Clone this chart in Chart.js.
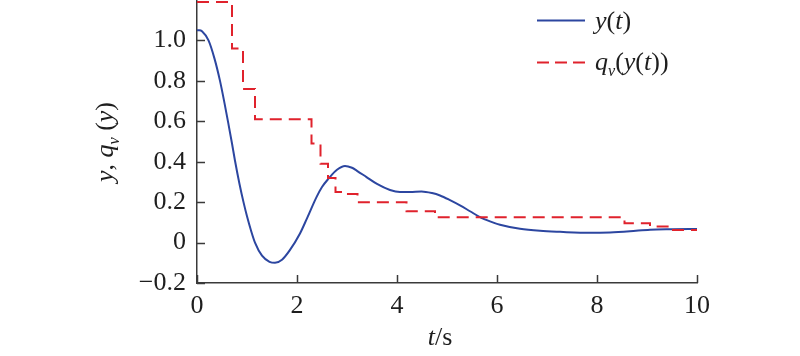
<!DOCTYPE html>
<html>
<head>
<meta charset="utf-8">
<script src="https://cdn.jsdelivr.net/npm/chart.js@4/dist/chart.umd.min.js"></script>
<style>
  html, body { margin: 0; padding: 0; background: #fff; }
  #wrap { width: 800px; height: 356px; position: relative; }
</style>
</head>
<body>
<div id="wrap"><canvas id="chart"></canvas></div>
<script>
// System response y(t)
const tResp = [0, 0.05, 0.1, 0.23, 0.35, 0.46, 0.55, 0.63, 0.7, 0.76, 0.85, 0.93, 1.0, 1.08, 1.16, 1.3, 1.45, 1.56, 1.7, 1.85, 2.06, 2.2, 2.39, 2.5, 2.63, 2.8, 2.96, 3.1, 3.2, 3.39, 3.6, 3.86, 4.06, 4.26, 4.49, 4.7, 4.86, 5.06, 5.26, 5.46, 5.66, 5.86, 6.06, 6.46, 6.86, 7.26, 7.86, 8.26, 8.66, 9.06, 9.5, 10];
const yResp = [1.05, 1.05, 1.045, 1.0, 0.91, 0.8, 0.69, 0.585, 0.49, 0.405, 0.29, 0.2, 0.13, 0.06, 0.0, -0.065, -0.095, -0.1, -0.085, -0.04, 0.045, 0.12, 0.225, 0.275, 0.316, 0.36, 0.379, 0.37, 0.355, 0.324, 0.29, 0.26, 0.25, 0.25, 0.253, 0.245, 0.233, 0.21, 0.184, 0.155, 0.126, 0.105, 0.088, 0.068, 0.058, 0.053, 0.048, 0.05, 0.056, 0.064, 0.066, 0.067];

// Quantized signal q_v(y(t)): each level holds from its time until the next one
const tQuant = [0, 0.70, 0.92, 1.16, 2.29, 2.47, 2.62, 2.77, 2.95, 3.21, 4.19, 4.76, 8.55, 9.06, 9.52, 10];
const qQuant = [1.19, 0.96, 0.76, 0.61, 0.49, 0.39, 0.32, 0.25, 0.24, 0.20, 0.155, 0.125, 0.096, 0.08, 0.062, 0.062];

const xTicks = [0, 2, 4, 6, 8, 10];
const yTicks = [-0.2, 0, 0.2, 0.4, 0.6, 0.8, 1.0];

const BLUE = '#2c46a0';
const RED = '#e0222c';
const AXIS = '#3a3a3a';
const TEXT = '#1e1e1e';
const SERIF = '"Liberation Serif", "DejaVu Serif", serif';

// draw a row of text pieces (italic / subscript) starting at x
function drawRuns(ctx, runs, x, y, size) {
  let cx = x;
  runs.forEach(r => {
    const s = r.sub ? size * 0.62 : size;
    ctx.font = (r.italic ? 'italic ' : '') + s + 'px ' + SERIF;
    ctx.fillText(r.text, cx, r.sub ? y + size * 0.22 : y);
    cx += ctx.measureText(r.text).width;
  });
  return cx - x;
}
function runsWidth(ctx, runs, size) {
  let w = 0;
  runs.forEach(r => {
    const s = r.sub ? size * 0.62 : size;
    ctx.font = (r.italic ? 'italic ' : '') + s + 'px ' + SERIF;
    w += ctx.measureText(r.text).width;
  });
  return w;
}

const decorPlugin = {
  id: 'decor',
  afterDraw(chart) {
    const ctx = chart.ctx;
    const xs = chart.scales.x;
    const ys = chart.scales.y;
    const area = chart.chartArea;
    ctx.save();

    // inward tick marks
    ctx.strokeStyle = AXIS;
    ctx.lineWidth = 1.5;
    ctx.beginPath();
    xTicks.forEach(v => {
      const px = Math.round(xs.getPixelForValue(v)) + 0.5;
      ctx.moveTo(px, area.bottom);
      ctx.lineTo(px, area.bottom - 8);
    });
    yTicks.forEach(v => {
      const py = Math.round(ys.getPixelForValue(v)) + 0.5;
      ctx.moveTo(area.left, py);
      ctx.lineTo(area.left + 8, py);
    });
    ctx.stroke();

    ctx.fillStyle = TEXT;
    ctx.textBaseline = 'alphabetic';
    const size = 26;

    // x axis title  t/s
    const xt = [{ text: 't', italic: true }, { text: '/s' }];
    const xw = runsWidth(ctx, xt, size);
    drawRuns(ctx, xt, 440 - xw / 2, 345, size);

    // y axis title  y, q_v (y)
    const yt = [{ text: 'y', italic: true }, { text: ', ' }, { text: 'q', italic: true },
                { text: 'v', italic: true, sub: true }, { text: ' (' }, { text: 'y', italic: true }, { text: ')' }];
    const yw = runsWidth(ctx, yt, size);
    ctx.save();
    ctx.translate(113, 142);
    ctx.rotate(-Math.PI / 2);
    drawRuns(ctx, yt, -yw / 2, 0, size);
    ctx.restore();

    // legend
    ctx.lineWidth = 2;
    ctx.strokeStyle = BLUE;
    ctx.beginPath();
    ctx.moveTo(537, 20.5);
    ctx.lineTo(585, 20.5);
    ctx.stroke();
    ctx.strokeStyle = RED;
    ctx.setLineDash([12, 6]);
    ctx.beginPath();
    ctx.moveTo(537, 62.5);
    ctx.lineTo(585, 62.5);
    ctx.stroke();
    ctx.setLineDash([]);

    drawRuns(ctx, [{ text: 'y', italic: true }, { text: '(' }, { text: 't', italic: true }, { text: ')' }], 595, 29, size);
    drawRuns(ctx, [{ text: 'q', italic: true }, { text: 'v', italic: true, sub: true }, { text: '(' },
                   { text: 'y', italic: true }, { text: '(' }, { text: 't', italic: true }, { text: '))' }], 595, 70, size);
    ctx.restore();
  }
};

const ctx = document.getElementById('chart').getContext('2d');
new Chart(ctx, {
  type: 'line',
  data: {
    datasets: [
      {
        label: 'q_v(y(t))',
        data: tQuant.map((t, i) => ({ x: t, y: qQuant[i] })),
        borderColor: RED,
        borderWidth: 2,
        borderDash: [12, 7],
        stepped: 'before',
        pointRadius: 0,
        fill: false
      },
      {
        label: 'y(t)',
        data: tResp.map((t, i) => ({ x: t, y: yResp[i] })),
        borderColor: BLUE,
        borderWidth: 2,
        cubicInterpolationMode: 'monotone',
        pointRadius: 0,
        fill: false
      }
    ]
  },
  options: {
    responsive: true,
    maintainAspectRatio: false,
    animation: false,
    layout: { padding: { left: 0, right: 103, top: 0, bottom: 0 } },
    plugins: { legend: { display: false }, tooltip: { enabled: false } },
    scales: {
      x: {
        type: 'linear',
        min: 0,
        max: 10,
        afterBuildTicks: s => { s.ticks = xTicks.map(v => ({ value: v })); },
        afterFit: s => { s.height = 73; s.paddingLeft = 0; s.paddingRight = 0; },
        grid: { display: false, drawTicks: false },
        border: { display: true, color: AXIS, width: 1.5 },
        ticks: {
          color: TEXT,
          padding: 8,
          maxRotation: 0,
          font: { family: SERIF, size: 26 },
          callback: v => String(v)
        }
      },
      y: {
        type: 'linear',
        min: -0.2,
        max: 1.2,
        afterBuildTicks: s => { s.ticks = yTicks.map(v => ({ value: v })); },
        afterFit: s => { s.width = 197; s.paddingTop = 0; s.paddingBottom = 0; },
        grid: { display: false, drawTicks: false },
        border: { display: true, color: AXIS, width: 1.5 },
        ticks: {
          color: TEXT,
          padding: 11,
          font: { family: SERIF, size: 26 },
          callback: v => Math.abs(v) < 1e-9 ? '0' : (v < 0 ? '\u2212' : '') + Math.abs(v).toFixed(1)
        }
      }
    }
  },
  plugins: [decorPlugin]
});
</script>
</body>
</html>
